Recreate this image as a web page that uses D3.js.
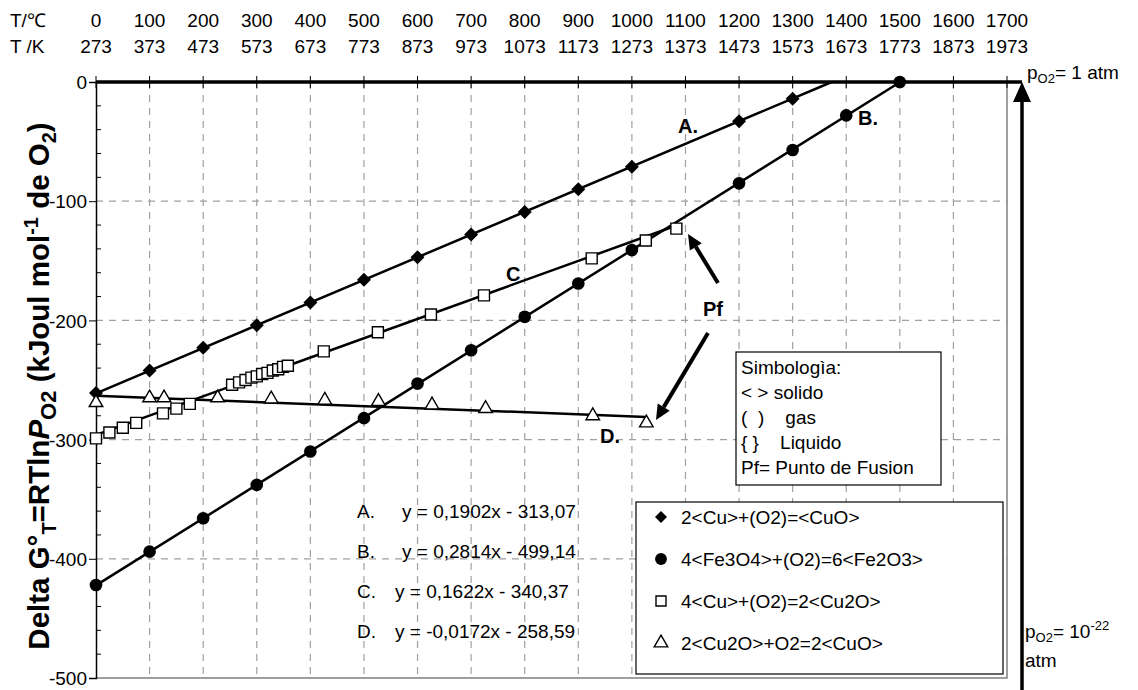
<!DOCTYPE html>
<html>
<head>
<meta charset="utf-8">
<script src="https://cdn.jsdelivr.net/npm/d3@7"></script>
<style>
  body { margin: 0; background: #fff; }
  text { font-family: "Liberation Sans", Arial, sans-serif; fill: #000; }
</style>
</head>
<body>
<div id="container"></div>
<script>
/* DATA */
const kTicks = [273, 373, 473, 573, 673, 773, 873, 973, 1073, 1173, 1273, 1373, 1473, 1573, 1673, 1773, 1873, 1973];
const cTicks = [0, 100, 200, 300, 400, 500, 600, 700, 800, 900, 1000, 1100, 1200, 1300, 1400, 1500, 1600, 1700];
const gTicks = [0, -100, -200, -300, -400, -500];

// A: 2<Cu>+(O2)=<CuO>
const cuoT = [273, 373, 473, 573, 673, 773, 873, 973, 1073, 1173, 1273, 1473, 1573];
const cuoG = [-261, -242, -223, -204, -185, -166, -147, -128, -109, -90, -71, -33, -14];
// B: 4<Fe3O4>+(O2)=6<Fe2O3>
const feT = [273, 373, 473, 573, 673, 773, 873, 973, 1073, 1173, 1273, 1473, 1573, 1673, 1773];
const feG = [-422, -394, -366, -338, -310, -282, -253, -225, -197, -169, -141, -85, -57, -28, 0];
// C: 4<Cu>+(O2)=2<Cu2O>
const cu2oT = [273, 298, 323, 348, 398, 423, 448, 527, 540, 552, 563, 573, 583, 593, 603, 613, 622, 631, 698, 799, 898, 997, 1198, 1299, 1356];
const cu2oG = [-299, -294, -290, -286, -278, -274, -270, -254, -252, -250, -248, -247, -245, -244, -242, -241, -239, -238, -226, -210, -195, -179, -148, -133, -123];
// D: 2<Cu2O>+O2=2<CuO>
const cuo2T = [273, 373, 400, 500, 600, 700, 800, 900, 1000, 1200, 1300];
const cuo2G = [-269, -265, -265, -265, -266, -267, -268, -271, -274, -280, -286];

// trend lines (slope, intercept, x range) as printed on the chart
const trendNames = ["A.", "B.", "C.", "D."];
const trendSlope = [0.1902, 0.2814, 0.1622, -0.0172];
const trendIcpt = [-313.07, -499.14, -340.37, -258.59];
const trendFrom = [273, 273, 273, 273];
const trendTo = [1646, 1773, 1356, 1300];
const trendText = ["y = 0,1902x - 313,07", "y = 0,2814x - 499,14", "y = 0,1622x - 340,37", "y = -0,0172x - 258,59"];

const legendNames = ["2<Cu>+(O2)=<CuO>", "4<Fe3O4>+(O2)=6<Fe2O3>", "4<Cu>+(O2)=2<Cu2O>", "2<Cu2O>+O2=2<CuO>"];
const symbLines = ["Simbologìa:", "< > solido", "(  )    gas", "{ }    Liquido", "Pf= Punto de Fusion"];

/* CONSTANTS */
const width = 1138, height = 690;
const margin = {top: 82, left: 96, right: 131, bottom: 12};

const svg = d3.select("#container").append("svg")
  .attr("width", width).attr("height", height);

const x = d3.scaleLinear().domain([273, 1973]).range([margin.left, width - margin.right]);
const y = d3.scaleLinear().domain([0, -500]).range([margin.top, height - margin.bottom]);

const FS = 19;

// GRID
svg.append("g").selectAll("line").data(kTicks.slice(1, -1)).join("line")
  .attr("x1", d => x(d)).attr("x2", d => x(d))
  .attr("y1", y(0)).attr("y2", y(-500))
  .attr("stroke", "#a0a0a0").attr("stroke-width", 1.2).attr("stroke-dasharray", "7,6");
svg.append("g").selectAll("line").data(gTicks.slice(1, -1)).join("line")
  .attr("x1", x(273)).attr("x2", x(1973))
  .attr("y1", d => y(d)).attr("y2", d => y(d))
  .attr("stroke", "#a0a0a0").attr("stroke-width", 1.2).attr("stroke-dasharray", "7,6");

// plot border (right + bottom)
svg.append("path")
  .attr("d", `M${x(1973)},${y(0)}V${y(-500)}H${x(273)}`)
  .attr("fill", "none").attr("stroke", "#808080").attr("stroke-width", 1.5);

// Y TITLE (drawn first, tick labels sit on top of it)
const yt = svg.append("text")
  .attr("transform", `translate(49,${(y(0) + y(-500)) / 2 + 6}) rotate(-90)`)
  .attr("text-anchor", "middle")
  .style("font-size", "29.5px").style("font-weight", "bold");
yt.append("tspan").text("Delta G°");
yt.append("tspan").attr("dy", 7).style("font-size", "20px").text("T");
yt.append("tspan").attr("dy", -7).text("=RTln");
yt.append("tspan").style("font-style", "italic").text("P");
yt.append("tspan").attr("dy", 7).style("font-size", "22px").text("O2");
yt.append("tspan").attr("dy", -7).text(" (kJoul mol");
yt.append("tspan").attr("dy", -11).style("font-size", "20px").text("-1");
yt.append("tspan").attr("dy", 11).text(" de O");
yt.append("tspan").attr("dy", 7).style("font-size", "20px").text("2");
yt.append("tspan").attr("dy", -7).text(")");

// Y AXIS
const yAxis = d3.axisLeft(y).tickValues(gTicks).tickSize(7).tickFormat(d => String(d));
const yg = svg.append("g").attr("transform", `translate(${x(273)},0)`).call(yAxis);
yg.select(".domain").attr("stroke", "#000").attr("stroke-width", 1.5);
yg.selectAll("text").style("font-size", FS + "px").attr("x", -9).attr("dy", "0.35em");
// minor ticks
svg.append("g").selectAll("line").data(d3.range(-20, -500, -20).filter(v => v % 100 !== 0)).join("line")
  .attr("x1", x(273)).attr("x2", x(273) + 5)
  .attr("y1", d => y(d)).attr("y2", d => y(d))
  .attr("stroke", "#000").attr("stroke-width", 1);

// zero line with ticks
svg.append("line")
  .attr("x1", x(273)).attr("x2", 1022).attr("y1", y(0)).attr("y2", y(0))
  .attr("stroke", "#000").attr("stroke-width", 3.5);
svg.append("g").selectAll("line").data(kTicks).join("line")
  .attr("x1", d => x(d)).attr("x2", d => x(d))
  .attr("y1", y(0) - 6).attr("y2", y(0) + 6)
  .attr("stroke", "#000").attr("stroke-width", 1);

// TOP HEADER
svg.append("text").attr("x", 10).attr("y", 27).style("font-size", FS + "px").text("T/℃");
svg.append("text").attr("x", 10).attr("y", 53).style("font-size", FS + "px").text("T /K");
svg.append("g").selectAll("text").data(cTicks).join("text")
  .attr("x", d => x(d + 273)).attr("y", 27).attr("text-anchor", "middle")
  .style("font-size", FS + "px").text(d => d);
svg.append("g").selectAll("text").data(kTicks).join("text")
  .attr("x", d => x(d)).attr("y", 53).attr("text-anchor", "middle")
  .style("font-size", FS + "px").text(d => d);

// TREND LINES
const line = d3.line().x(d => x(d[0])).y(d => y(d[1]));
trendSlope.forEach((m, i) => {
  const pts = [trendFrom[i], trendTo[i]].map(t => [t, Math.min(0, m * t + trendIcpt[i])]);
  svg.append("path").attr("d", line(pts))
    .attr("fill", "none").attr("stroke", "#000").attr("stroke-width", 2.5);
});

// MARKERS
const diamond = s => `M0,${-s}L${s},0L0,${s}L${-s},0Z`;
function styleMark(sel, kind, big) {
  if (kind === "diamond") sel.attr("d", diamond(big ? 7 : 6)).attr("fill", "#000");
  if (kind === "circle") sel.attr("d", d3.symbol(d3.symbolCircle, big ? 125 : 110)()).attr("fill", "#000");
  if (kind === "square") sel.attr("d", d3.symbol(d3.symbolSquare, big ? 121 : 100)()).attr("fill", "#fff").attr("stroke", "#000").attr("stroke-width", 1.4);
  if (kind === "triangle") sel.attr("d", d3.symbol(d3.symbolTriangle, 80)()).attr("fill", "#fff").attr("stroke", "#000").attr("stroke-width", 1.4);
}
function drawMarks(T, G, kind) {
  const data = T.map((t, i) => [t, G[i]]);
  const sel = svg.append("g").selectAll("path").data(data).join("path")
    .attr("transform", d => `translate(${x(d[0])},${y(d[1])})`);
  styleMark(sel, kind, true);
}
drawMarks(cuoT, cuoG, "diamond");
drawMarks(feT, feG, "circle");
drawMarks(cu2oT, cu2oG, "square");
drawMarks(cuo2T, cuo2G, "triangle");

// LINE LABELS
const bold = (tx, ty, s) => svg.append("text").attr("x", tx).attr("y", ty)
  .style("font-size", "20px").style("font-weight", "bold").text(s);
bold(678, 133, "A.");
bold(858, 125, "B.");
bold(506, 281, "C");
bold(600, 443, "D.");
bold(703, 316, "Pf");

// Pf arrows
const arrow = (x1, y1, x2, y2) => {
  const a = Math.atan2(y2 - y1, x2 - x1), L = 15, W = 7;
  const bx = x2 - L * Math.cos(a), by = y2 - L * Math.sin(a);
  svg.append("line").attr("x1", x1).attr("y1", y1).attr("x2", bx).attr("y2", by)
    .attr("stroke", "#000").attr("stroke-width", 4);
  svg.append("path")
    .attr("d", `M${x2},${y2}L${bx + W * Math.sin(a)},${by - W * Math.cos(a)}L${bx - W * Math.sin(a)},${by + W * Math.cos(a)}Z`)
    .attr("fill", "#000");
};
arrow(718, 283, 688, 234);
arrow(708, 333, 656, 420);

// EQUATIONS
trendText.forEach((t, i) => {
  svg.append("text").attr("x", 357).attr("y", 518 + i * 40).style("font-size", FS + "px").text(trendNames[i]);
  svg.append("text").attr("x", i < 2 ? 402 : 395).attr("y", 518 + i * 40).style("font-size", FS + "px").text(t);
});

// SIMBOLOGIA BOX
svg.append("rect").attr("x", 736).attr("y", 352).attr("width", 205).attr("height", 133)
  .attr("fill", "#fff").attr("stroke", "#000").attr("stroke-width", 1.2);
symbLines.forEach((s, i) => {
  svg.append("text").attr("x", 741).attr("y", 374 + i * 25)
    .style("font-size", FS + "px").style("white-space", "pre").text(s);
});

// LEGEND
svg.append("rect").attr("x", 636).attr("y", 502).attr("width", 367).attr("height", 172)
  .attr("fill", "#fff").attr("stroke", "#000").attr("stroke-width", 1.2);
const kinds = ["diamond", "circle", "square", "triangle"];
legendNames.forEach((n, i) => {
  const cy = 517 + i * 42;
  const m = svg.append("path").attr("transform", `translate(661,${cy})`);
  styleMark(m, kinds[i], false);
  svg.append("text").attr("x", 681).attr("y", cy + 7).style("font-size", FS + "px").text(n);
});

// PRESSURE ARROW (right)
svg.append("line").attr("x1", 1022).attr("x2", 1022).attr("y1", y(0) + 18).attr("y2", height)
  .attr("stroke", "#000").attr("stroke-width", 3.5);
svg.append("path").attr("d", `M1022,${y(0)}L1031,${y(0) + 20}L1013,${y(0) + 20}Z`).attr("fill", "#000");

const p1 = svg.append("text").attr("x", 1027).attr("y", 79).style("font-size", FS + "px");
p1.append("tspan").text("p");
p1.append("tspan").attr("dy", 4).style("font-size", "13px").text("O2");
p1.append("tspan").attr("dy", -4).text("= 1 atm");

const p2 = svg.append("text").attr("x", 1025).attr("y", 638).style("font-size", FS + "px");
p2.append("tspan").text("p");
p2.append("tspan").attr("dy", 4).style("font-size", "13px").text("O2");
p2.append("tspan").attr("dy", -4).text("= 10");
p2.append("tspan").attr("dy", -8).style("font-size", "13px").text("-22");
svg.append("text").attr("x", 1025).attr("y", 667).style("font-size", FS + "px").text("atm");
</script>
</body>
</html>
